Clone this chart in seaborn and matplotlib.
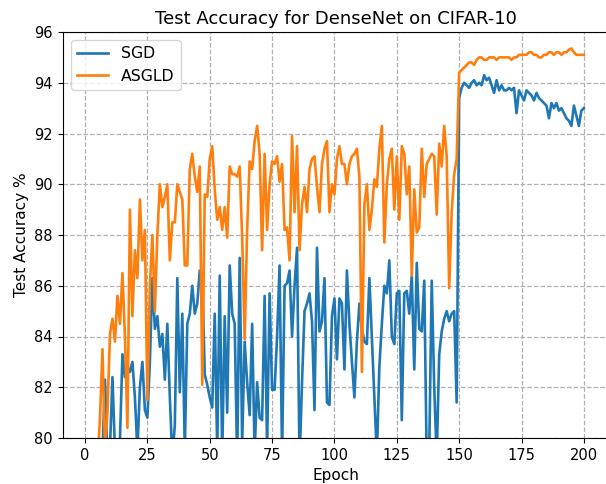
import numpy as np
import pandas as pd
import matplotlib
matplotlib.use("Agg")
import matplotlib.pyplot as plt
import seaborn as sns

epochs = list(range(1, 201))

sgd_acc = [
    70.5, 74.2, 76.0, 77.1, 78.3, 79.0, 79.4, 82.3, 79.2, 79.6,
    82.4, 79.5, 79.8, 79.9, 83.3, 82.4, 82.8, 82.6, 83.0, 81.6,
    79.5, 82.0, 83.0, 81.1, 80.8, 83.0, 86.3, 84.3, 84.8, 83.6,
    84.1, 82.3, 84.5, 81.6, 79.2, 80.5, 86.3, 81.8, 84.9, 79.5,
    84.5, 84.9, 86.0, 84.9, 85.3, 86.6, 86.5, 82.5, 82.1, 81.6,
    81.2, 84.9, 79.5, 86.4, 79.3, 84.8, 81.0, 86.8, 84.9, 84.5,
    79.0, 87.1, 79.8, 83.8, 82.2, 80.9, 84.5, 79.4, 82.2, 80.8,
    80.7, 85.6, 79.6, 85.7, 81.9, 81.9, 84.0, 86.8, 79.3, 86.0,
    86.1, 86.6, 84.0, 86.0, 87.5, 79.0, 82.2, 85.0, 85.3, 85.7,
    84.6, 81.1, 87.5, 84.2, 84.6, 86.3, 81.4, 81.3, 84.8, 85.5,
    83.1, 85.5, 85.3, 82.7, 86.6, 84.5, 83.0, 81.6, 83.8, 85.3,
    84.3, 83.8, 83.7, 86.3, 83.9, 81.6, 79.3, 82.8, 84.5, 86.0,
    85.7, 87.0, 84.0, 83.7, 85.7, 85.8, 80.7, 85.7, 85.8, 84.9,
    86.4, 82.7, 86.9, 84.3, 84.2, 86.2, 79.0, 79.5, 86.2, 82.0,
    79.2, 83.3, 84.2, 84.7, 85.0, 84.6, 84.9, 85.0, 81.4, 93.4,
    93.8, 94.0, 93.9, 93.8, 94.0, 94.1, 93.9, 94.0, 93.9, 94.3,
    94.1, 94.2, 93.9, 93.6, 94.1, 93.7, 93.9, 93.7, 93.7, 93.8,
    93.7, 93.8, 92.8, 93.7, 93.5, 93.3, 93.7, 93.6, 93.5, 93.3,
    93.6, 93.4, 93.3, 93.2, 93.1, 92.6, 93.2, 93.0, 93.2, 92.9,
    93.0, 92.8, 92.6, 92.5, 92.3, 93.1, 92.7, 92.3, 92.9, 93.0,
]

asgld_acc = [
    71.0, 74.0, 76.5, 78.0, 79.0, 80.8, 83.5, 79.6, 81.0, 84.1,
    84.7, 83.8, 85.6, 84.5, 86.5, 84.0, 80.4, 89.0, 84.8, 87.4,
    86.3, 89.4, 87.0, 88.2, 81.5, 86.0, 88.0, 85.0, 88.0, 90.0,
    89.1, 89.5, 90.0, 87.0, 88.5, 88.5, 90.0, 89.7, 89.4, 86.8,
    86.8, 90.6, 91.2, 90.3, 89.7, 90.7, 82.1, 89.6, 89.5, 91.0,
    91.5, 89.8, 88.6, 89.1, 88.2, 89.1, 87.9, 90.7, 90.4, 90.4,
    90.3, 90.7, 87.9, 83.9, 88.2, 90.9, 90.6, 91.7, 92.3, 91.2,
    87.4, 91.2, 88.2, 90.0, 90.9, 90.8, 91.1, 90.1, 90.8, 88.2,
    88.3, 87.0, 91.9, 88.9, 91.5, 87.4, 89.2, 89.9, 88.9, 90.6,
    91.0, 91.1, 89.9, 88.9, 90.8, 91.4, 91.7, 88.9, 90.0, 89.6,
    91.0, 91.5, 90.8, 90.8, 90.0, 90.8, 91.1, 91.2, 91.4, 90.3,
    82.6, 89.2, 90.0, 88.2, 89.0, 90.2, 89.9, 91.4, 92.3, 87.7,
    90.0, 91.0, 91.4, 89.0, 91.1, 88.6, 91.5, 91.2, 89.6, 90.7,
    86.4, 89.8, 88.1, 88.3, 91.4, 89.5, 90.8, 91.0, 91.2, 91.1,
    88.8, 91.6, 90.7, 92.3, 91.1, 85.9, 88.9, 90.4, 91.0, 94.4,
    94.5, 94.6, 94.7, 94.8, 94.8, 94.7, 94.9, 95.0, 95.0, 94.9,
    94.9, 95.0, 95.0, 95.0, 94.9, 95.0, 95.0, 95.0, 95.0, 95.0,
    94.9, 95.0, 95.0, 95.1, 95.1, 95.1, 95.1, 95.2, 95.2, 95.1,
    95.1, 95.0, 95.0, 95.1, 95.1, 95.2, 95.2, 95.1, 95.2, 95.2,
    95.1, 95.2, 95.2, 95.3, 95.35, 95.2, 95.1, 95.1, 95.1, 95.1,
]

methods = ["SGD", "ASGLD"]
colors = ["#1f77b4", "#ff7f0e"]

df = pd.DataFrame({
    "Epoch": epochs * 2,
    "Accuracy": sgd_acc + asgld_acc,
    "Method": ["SGD"] * len(epochs) + ["ASGLD"] * len(epochs),
})

fig = plt.figure(figsize=(6.06, 4.84), dpi=100)
ax = fig.add_axes([62.7 / 606, 46 / 484, 546 / 606, 406 / 484])

sns.lineplot(
    data=df, x="Epoch", y="Accuracy", hue="Method",
    hue_order=methods, palette=colors, linewidth=1.9, ax=ax,
)

ax.set_ylim(80, 96)
ax.set_yticks(np.arange(80, 97, 2))
ax.set_xticks(np.arange(0, 201, 25))
ax.grid(True, linestyle="--", color="#b0b0b0", linewidth=0.9)
ax.set_title("Test Accuracy for DenseNet on CIFAR-10", fontsize=13)
ax.set_xlabel("Epoch", fontsize=11)
ax.set_ylabel("Test Accuracy %", fontsize=11)
ax.tick_params(labelsize=10.5)
ax.legend(loc="upper left", fontsize=11.3, title=None)

fig.savefig("out.png", dpi=100)
plt.close()
